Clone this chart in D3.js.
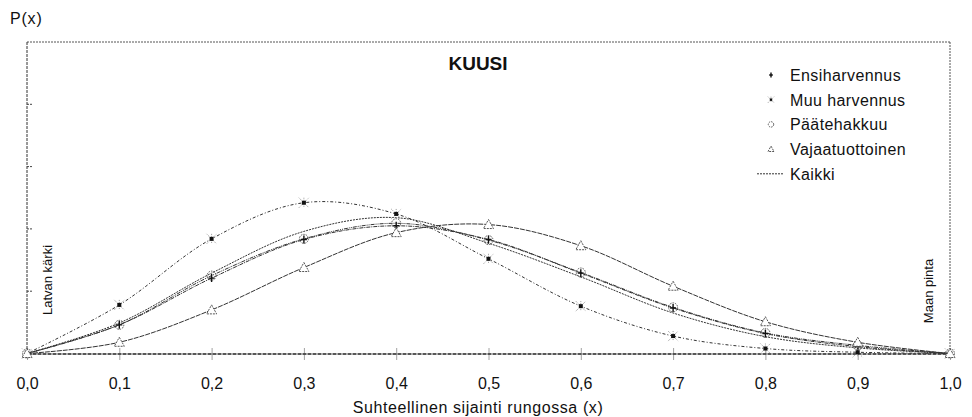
<!DOCTYPE html>
<html>
<head>
<meta charset="utf-8">
<script src="https://cdn.jsdelivr.net/npm/d3@7"></script>
<style>
  html, body { margin: 0; padding: 0; background: #fff; }
  svg { display: block; font-family: "Liberation Sans", Arial, sans-serif; }
</style>
</head>
<body>
<svg id="chart" width="972" height="417"></svg>
<script>
// Relative position along the stem (0 = tip, 1 = ground level)
const positions = [0, 0.1, 0.2, 0.3, 0.4, 0.5, 0.6, 0.7, 0.8, 0.9, 1.0];

// Density P(x) for each harvest type
const ensiharvennus   = [0, 0.46, 1.21, 1.83, 2.05, 1.83, 1.29, 0.73, 0.32, 0.11, 0];
const muuHarvennus    = [0, 0.78, 1.84, 2.42, 2.24, 1.52, 0.76, 0.28, 0.08, 0.02, 0];
const paatehakkuu     = [0, 0.46, 1.25, 1.84, 2.09, 1.82, 1.30, 0.74, 0.33, 0.13, 0];
const vajaatuottoinen = [0, 0.18, 0.70, 1.38, 1.94, 2.07, 1.73, 1.08, 0.51, 0.18, 0];
const kaikki          = [0, 0.49, 1.29, 1.96, 2.18, 1.77, 1.23, 0.65, 0.27, 0.09, 0];

const seriesNames = ["Ensiharvennus", "Muu harvennus", "Päätehakkuu", "Vajaatuottoinen", "Kaikki"];
const xTickValues = [0, 0.1, 0.2, 0.3, 0.4, 0.5, 0.6, 0.7, 0.8, 0.9, 1.0];
const yTickValues = [1, 2, 3, 4];

const series = [
  { name: seriesNames[0], values: ensiharvennus,   marker: "plus",     dash: "4,1,1,1" },
  { name: seriesNames[1], values: muuHarvennus,    marker: "star",     dash: "3,2,1,2" },
  { name: seriesNames[2], values: paatehakkuu,     marker: "circle",   dash: "4,1,1,1,1,1" },
  { name: seriesNames[3], values: vajaatuottoinen, marker: "triangle", dash: "5,1" },
  { name: seriesNames[4], values: kaikki,          marker: null,       dash: "2,1" }
];

const svg = d3.select("#chart");
const plotLeft = 27, plotRight = 950, plotTop = 42, plotBottom = 353.5;

const x = d3.scaleLinear().domain([0, 1]).range([plotLeft, plotRight]);
const y = d3.scaleLinear().domain([0, 5]).range([plotBottom, plotTop]);

// Frame: fine dotted top and right borders
svg.append("line").attr("x1", plotLeft).attr("x2", plotRight).attr("y1", plotTop).attr("y2", plotTop)
  .attr("stroke", "#555").attr("stroke-dasharray", "2,1").attr("stroke-width", 1);
svg.append("line").attr("x1", plotRight).attr("x2", plotRight).attr("y1", plotTop).attr("y2", plotBottom)
  .attr("stroke", "#555").attr("stroke-dasharray", "2,1").attr("stroke-width", 1);

// Left axis (dashed) with inward tick marks, no labels
svg.append("line").attr("x1", plotLeft).attr("x2", plotLeft).attr("y1", plotTop).attr("y2", plotBottom)
  .attr("stroke", "#333").attr("stroke-dasharray", "3,1").attr("stroke-width", 1);
svg.append("g").selectAll("line").data(yTickValues).join("line")
  .attr("x1", plotLeft).attr("x2", plotLeft + 6)
  .attr("y1", d => y(d)).attr("y2", d => y(d))
  .attr("stroke", "#444").attr("stroke-dasharray", "2,1");

// Bottom axis
const xAxis = d3.axisBottom(x).tickValues(xTickValues).tickSize(0)
  .tickFormat(d => d3.format(".1f")(d).replace(".", ","));
const gx = svg.append("g").attr("transform", `translate(0,${plotBottom})`).call(xAxis);
gx.select(".domain").attr("stroke", "#222").attr("stroke-dasharray", "4,1").attr("stroke-width", 1.3);
gx.selectAll(".tick text").attr("font-size", 16).attr("fill", "#111")
  .attr("font-family", "Liberation Sans, Arial, sans-serif").attr("dy", 0).attr("y", 35);
gx.selectAll(".tick").append("line")
  .attr("y1", -5).attr("y2", 6)
  .attr("stroke", "#444").attr("stroke-dasharray", "1,1");

// Axis title and labels
svg.append("text").attr("x", 478).attr("y", 413).attr("text-anchor", "middle")
  .attr("font-size", 16).attr("letter-spacing", 0.6).attr("fill", "#111")
  .text("Suhteellinen sijainti rungossa (x)");
svg.append("text").attr("x", 10).attr("y", 24).attr("font-size", 16).attr("letter-spacing", 0.8)
  .attr("fill", "#111").text("P(x)");
svg.append("text").attr("x", 478).attr("y", 70).attr("text-anchor", "middle")
  .attr("font-size", 19).attr("font-weight", "bold").attr("fill", "#111").text("KUUSI");
svg.append("text").attr("transform", "translate(52,280) rotate(-90)").attr("text-anchor", "middle")
  .attr("font-size", 13).attr("fill", "#111").text("Latvan kärki");
svg.append("text").attr("transform", "translate(933,291) rotate(-90)").attr("text-anchor", "middle")
  .attr("font-size", 13).attr("fill", "#111").text("Maan pinta");

// Curves
const line = d3.line()
  .x((d, i) => x(positions[i]))
  .y(d => y(d))
  .curve(d3.curveCatmullRom);

const plot = svg.append("g");
series.forEach(s => {
  plot.append("path").datum(s.values).attr("d", line)
    .attr("fill", "none").attr("stroke", "#333").attr("stroke-width", 1)
    .attr("stroke-dasharray", s.dash);
});

// Marker drawing
function drawMarker(g, type, cx, cy, scale) {
  const k = scale || 1;
  if (type === "plus") {
    g.append("path").attr("d", `M${cx - 3 * k},${cy}H${cx + 3 * k}M${cx},${cy - 4 * k}V${cy + 4 * k}`)
      .attr("stroke", "#111").attr("stroke-width", 1.4);
  } else if (type === "star") {
    g.append("path").attr("d",
      `M${cx - 5 * k},${cy - 5 * k}L${cx + 5 * k},${cy + 5 * k}M${cx - 5 * k},${cy + 5 * k}L${cx + 5 * k},${cy - 5 * k}M${cx},${cy - 5 * k}V${cy + 5 * k}`)
      .attr("stroke", "#999").attr("stroke-width", 1).attr("stroke-dasharray", "1,1");
    g.append("rect").attr("x", cx - 2 * k).attr("y", cy - 2 * k).attr("width", 4 * k).attr("height", 4 * k)
      .attr("fill", "#111");
  } else if (type === "circle") {
    g.append("circle").attr("cx", cx).attr("cy", cy).attr("r", 4.5 * k)
      .attr("fill", "none").attr("stroke", "#555").attr("stroke-width", 1).attr("stroke-dasharray", "1.5,1");
  } else if (type === "triangle") {
    const h = 5 * k;
    g.append("path").attr("d", `M${cx},${cy - h}L${cx + h},${cy + h * 0.8}L${cx - h},${cy + h * 0.8}Z`)
      .attr("fill", "#fff").attr("stroke", "#555").attr("stroke-width", 1).attr("stroke-dasharray", "2,1");
  }
}

series.forEach(s => {
  if (!s.marker) return;
  const g = plot.append("g");
  s.values.forEach((v, i) => drawMarker(g, s.marker, x(positions[i]), y(v), 1));
});

// Legend
const legend = svg.append("g");
const legendY0 = 75, legendStep = 24.7;
series.forEach((s, i) => {
  const ly = legendY0 + i * legendStep;
  if (s.marker) {
    drawMarker(legend, s.marker, 771, ly, 0.6);
  } else {
    legend.append("line").attr("x1", 757).attr("x2", 784).attr("y1", ly).attr("y2", ly)
      .attr("stroke", "#333").attr("stroke-dasharray", s.dash);
  }
  legend.append("text").attr("x", 790).attr("y", ly + 6)
    .attr("font-size", 16).attr("letter-spacing", 0.4).attr("fill", "#111").text(s.name);
});
</script>
</body>
</html>
